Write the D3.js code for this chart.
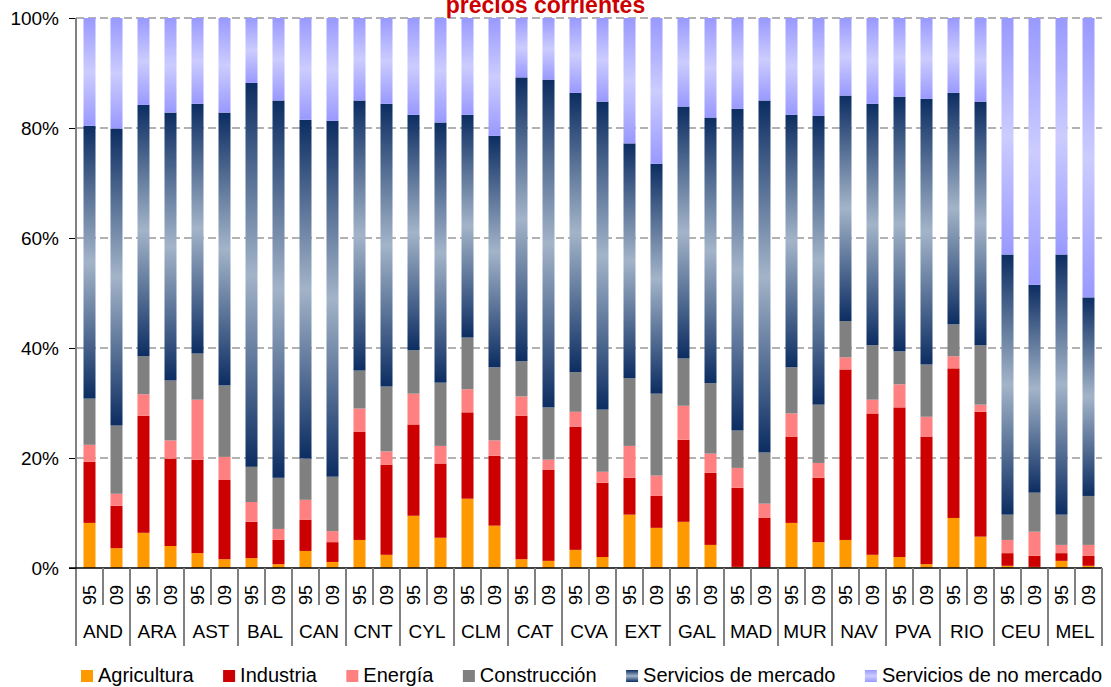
<!DOCTYPE html>
<html>
<head>
<meta charset="utf-8">
<script src="https://cdn.jsdelivr.net/npm/d3@7"></script>
<style>
  html, body { margin: 0; padding: 0; background: #fff; }
  svg { display: block; font-family: "Liberation Sans", Arial, sans-serif; }
</style>
</head>
<body>
<svg id="chart" width="1111" height="687"></svg>
<script>
const title = "precios corrientes";
const regions = ["AND","ARA","AST","BAL","CAN","CNT","CYL","CLM","CAT","CVA","EXT","GAL","MAD","MUR","NAV","PVA","RIO","CEU","MEL"];
const years = ["95","09"];
const seriesNames = ["Agricultura","Industria","Energía","Construcción","Servicios de mercado","Servicios de no mercado"];
const yTicks = [0, 0.2, 0.4, 0.6, 0.8, 1.0];

// shares (%) per bar, order: region x year (95, 09)
const agricultura = [8.2,3.6, 6.4,4.0, 2.7,1.6, 1.8,0.7, 3.1,1.1, 5.1,2.4, 9.5,5.5, 12.6,7.7, 1.6,1.3, 3.3,2.0, 9.7,7.3, 8.4,4.2, 0.2,0.1, 8.2,4.7, 5.1,2.4, 2.0,0.7, 9.1,5.7, 0.4,0.2, 1.3,0.4];
const industria = [11.1,7.7, 21.3,15.9, 17.0,14.4, 6.6,4.4, 5.7,3.6, 19.7,16.4, 16.6,13.5, 15.7,12.7, 26.1,16.6, 22.4,13.5, 6.7,5.8, 14.9,13.1, 14.4,9.0, 15.7,11.7, 31.0,25.7, 27.2,23.2, 27.2,22.7, 2.3,2.0, 1.4,1.8];
const energia = [3.1,2.2, 3.9,3.3, 10.9,4.2, 3.6,2.0, 3.6,2.0, 4.2,2.4, 5.6,3.2, 4.2,2.8, 3.5,1.8, 2.7,2.0, 5.8,3.7, 6.2,3.5, 3.6,2.6, 4.2,2.7, 2.2,2.5, 4.2,3.6, 2.2,1.3, 2.4,4.4, 1.5,2.0];
const construccion = [8.4,12.4, 6.9,10.9, 8.4,13.0, 6.4,9.3, 7.5,9.9, 6.9,11.8, 7.9,11.5, 9.4,13.3, 6.4,9.5, 7.2,11.3, 12.3,14.9, 8.6,12.8, 6.8,9.3, 8.4,10.6, 6.6,9.9, 6.0,9.5, 5.8,10.8, 4.6,7.1, 5.5,8.9];
const serviciosMercado = [49.6,54.0, 45.7,48.7, 45.4,49.6, 69.8,68.6, 61.6,64.7, 49.1,51.4, 42.8,47.3, 40.5,42.1, 51.6,59.6, 50.8,56.0, 42.7,41.8, 45.8,48.3, 58.5,64.0, 45.9,52.5, 41.0,43.9, 46.3,48.3, 42.1,44.3, 47.3,37.8, 47.3,36.1];
const serviciosNoMercado = [19.6,20.1, 15.8,17.2, 15.6,17.2, 11.8,15.0, 18.5,18.7, 15.0,15.6, 17.6,19.0, 17.6,21.4, 10.8,11.2, 13.6,15.2, 22.8,26.5, 16.1,18.1, 16.5,15.0, 17.6,17.8, 14.1,15.6, 14.3,14.7, 13.6,15.2, 43.0,48.5, 43.0,50.8];

const seriesArrays = [agricultura, industria, energia, construccion, serviciosMercado, serviciosNoMercado];

// build table
const rows = [];
regions.forEach((r, ri) => {
  years.forEach((y, yi) => {
    const idx = ri * 2 + yi;
    const row = { key: r + "-" + y, region: r, year: y };
    seriesNames.forEach((s, si) => row[s] = seriesArrays[si][idx]);
    rows.push(row);
  });
});

const svg = d3.select("#chart");
const plot = { left: 76, right: 1102, top: 18, bottom: 568 };

const defs = svg.append("defs");
function grad(id, edge, mid) {
  const g = defs.append("linearGradient").attr("id", id)
    .attr("x1", 0).attr("y1", 0).attr("x2", 0).attr("y2", 1);
  g.append("stop").attr("offset", "0%").attr("stop-color", edge);
  g.append("stop").attr("offset", "50%").attr("stop-color", mid);
  g.append("stop").attr("offset", "100%").attr("stop-color", edge);
}
grad("gMercado", "#0c2d62", "#a3b4c9");
grad("gNoMercado", "#9999ff", "#ccccff");

const fills = ["#ff9900", "#cc0000", "#ff8080", "#808080", "url(#gMercado)", "url(#gNoMercado)"];

const x = d3.scaleBand()
  .domain(rows.map(d => d.key))
  .range([plot.left, plot.right])
  .paddingInner(15 / 27)
  .paddingOuter(15 / 54);

const y = d3.scaleLinear().domain([0, 1]).range([plot.bottom, plot.top]);

const stack = d3.stack().keys(seriesNames).offset(d3.stackOffsetExpand);
const stacked = stack(rows);

// gridlines
svg.append("g").selectAll("line")
  .data(yTicks.filter(t => t > 0))
  .join("line")
  .attr("x1", plot.left).attr("x2", plot.right)
  .attr("y1", d => y(d)).attr("y2", d => y(d))
  .attr("stroke", "#999").attr("stroke-width", 1.3)
  .attr("stroke-dasharray", "8,4");

// bars
svg.append("g").selectAll("g")
  .data(stacked)
  .join("g")
  .attr("fill", (d, i) => fills[i])
  .selectAll("rect")
  .data(d => d)
  .join("rect")
  .attr("x", d => x(d.data.key))
  .attr("width", x.bandwidth())
  .attr("y", d => y(d[1]))
  .attr("height", d => Math.max(0, y(d[0]) - y(d[1])));

// y axis
const yAxis = d3.axisLeft(y).tickValues(yTicks).tickFormat(d3.format(".0%")).tickSize(7).tickPadding(10);
const ga = svg.append("g").attr("transform", `translate(${plot.left},0)`).call(yAxis);
ga.select(".domain").remove();
ga.selectAll(".tick line").attr("stroke", "#000");
ga.selectAll(".tick text").attr("font-size", 19).attr("fill", "#000")
  .attr("font-family", "'Liberation Sans', Arial, sans-serif");

// axis line vertical (gray) extending into category area
svg.append("line")
  .attr("x1", plot.left).attr("x2", plot.left)
  .attr("y1", plot.top).attr("y2", 646)
  .attr("stroke", "#808080").attr("stroke-width", 2);

// baseline
svg.append("line")
  .attr("x1", plot.left - 7).attr("x2", plot.right)
  .attr("y1", plot.bottom).attr("y2", plot.bottom)
  .attr("stroke", "#000").attr("stroke-width", 1.5);

// category separators
const step = x.step();
const sepData = d3.range(1, rows.length + 1);
svg.append("g").selectAll("line")
  .data(sepData)
  .join("line")
  .attr("x1", k => plot.left + k * step)
  .attr("x2", k => plot.left + k * step)
  .attr("y1", plot.bottom)
  .attr("y2", k => k % 2 === 0 ? 646 : 605)
  .attr("stroke", "#808080").attr("stroke-width", 2);

// year labels
svg.append("g").selectAll("text")
  .data(rows)
  .join("text")
  .attr("transform", d => `translate(${x(d.key) + x.bandwidth() / 2},595) rotate(-90)`)
  .attr("text-anchor", "middle")
  .attr("dy", "0.35em")
  .attr("font-size", 18)
  .attr("fill", "#000")
  .text(d => d.year);

// region labels
svg.append("g").selectAll("text")
  .data(regions)
  .join("text")
  .attr("x", r => (x(r + "-95") + x(r + "-09") + x.bandwidth()) / 2)
  .attr("y", 638)
  .attr("text-anchor", "middle")
  .attr("font-size", 19)
  .attr("fill", "#000")
  .text(r => r);

// title (cut at the top edge, as in the reference)
svg.append("text")
  .attr("x", 545.5).attr("y", 13)
  .attr("text-anchor", "middle")
  .attr("font-size", 23).attr("font-weight", "bold")
  .attr("fill", "#cc0000")
  .text(title);

// legend
const lg = svg.append("g");
const items = lg.selectAll("g").data(seriesNames).join("g");
items.append("rect")
  .attr("width", 12).attr("height", 12)
  .attr("y", 670)
  .attr("fill", (d, i) => fills[i]);
items.append("text")
  .attr("x", 17).attr("y", 682)
  .attr("font-size", 20).attr("fill", "#000")
  .text(d => d);
const widths = [];
items.each(function() {
  const w = d3.select(this).select("text").node().getComputedTextLength();
  widths.push(17 + w);
});
const legendLeft = 81, legendRight = 1102;
const gap = (legendRight - legendLeft - d3.sum(widths)) / (widths.length - 1);
let start = legendLeft;
items.attr("transform", (d, i) => {
  const tx = start;
  start += widths[i] + gap;
  return `translate(${tx},0)`;
});
</script>
</body>
</html>
